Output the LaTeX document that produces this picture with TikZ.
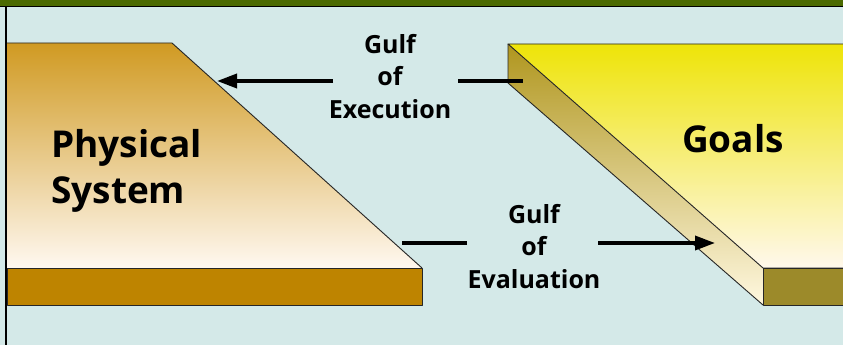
\documentclass[tikz,border=0pt]{standalone}
\usepackage{fontspec}
\setmainfont{Open Sans}
\usetikzlibrary{arrows.meta}
\definecolor{bgc}{HTML}{D4E9E8}
\definecolor{bandc}{HTML}{4B6A00}
\definecolor{physTop}{HTML}{D09A22}
\definecolor{physBot}{HTML}{FFF8F0}
\definecolor{physBar}{HTML}{BE8400}
\definecolor{goalTop}{HTML}{EEE408}
\definecolor{goalBot}{HTML}{FFF8EC}
\definecolor{sideTop}{HTML}{B0961E}
\definecolor{sideBot}{HTML}{FFF8E0}
\definecolor{goalBar}{HTML}{9C8A2A}
\tikzset{
  edge/.style={draw=black!85, line width=0.9pt, line join=round},
  gulfline/.style={line width=3.6pt},
  gulfarrow/.style={line width=3.6pt, -{Triangle[length=20pt,width=14pt]}},
  bigtext/.style={font=\fontsize{37}{46}\selectfont\bfseries, align=left, inner sep=0pt},
  gulftext/.style={font=\fontsize{25}{32.5}\selectfont\bfseries, align=center, inner sep=0pt},
}
\begin{document}
\begin{tikzpicture}[x=1pt,y=-1pt]
\useasboundingbox (0,0) rectangle (843,345);
\fill[bgc] (0,0) rectangle (843,345);
\fill[bandc] (0,0) rectangle (843,6);
\draw[line width=1.5pt] (0,6.5) -- (843,6.5);
\draw[line width=1.2pt] (6,6.5) -- (6,345);
% physical system
\shade[top color=physTop, bottom color=physBot] (7,43) -- (172,43) -- (422,268) -- (7,268) -- cycle;
\draw[edge] (7,43) -- (172,43) -- (422,268);
\filldraw[edge, fill=physBar] (7,268) rectangle (422,305);
\coordinate (physSlant) at (217,81);
% goals
\shade[top color=goalTop, bottom color=goalBot] (508,44) -- (843,44) -- (843,268) -- (763,268) -- cycle;
\shade[top color=sideTop, bottom color=sideBot] (508,44) -- (763,268) -- (763,305) -- (508,83) -- cycle;
\draw[edge] (843,44) -- (508,44) -- (763,268) -- (843,268);
\draw[edge] (508,44) -- (508,83) -- (763,305);
\filldraw[edge, fill=goalBar] (763,268) rectangle (845,305);
\coordinate (goalSlant) at (715,243);
\coordinate (goalSide) at (523,81);
\coordinate (physCorner) at (402,243);
% texts (base anchor = baseline of last line)
\node[bigtext, anchor=base west] (phys) at (51,203) {Physical\\System};
\node[bigtext, anchor=base] (goals) at (733,152) {Goals};
\node[gulftext, anchor=base] (exec) at (390,118) {Gulf\\of\\Execution};
\node[gulftext, anchor=base] (eval) at (534,288) {Gulf\\of\\Evaluation};
% connectors
\coordinate (exL) at (333,81);
\coordinate (exR) at (458,81);
\coordinate (evL) at (467,243);
\coordinate (evR) at (598,243);
\draw[gulfarrow] (exL) -- (physSlant);
\draw[gulfline] (exR) -- (goalSide);
\draw[gulfline] (evL) -- (physCorner);
\draw[gulfarrow] (evR) -- (goalSlant);
\end{tikzpicture}
\end{document}
